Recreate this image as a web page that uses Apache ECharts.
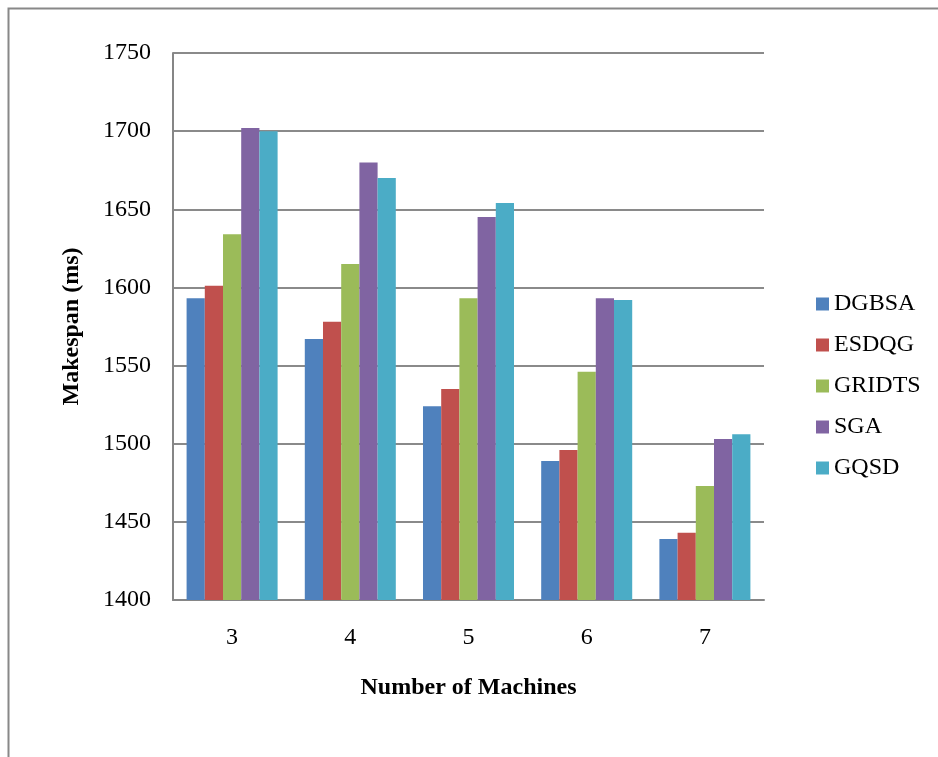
<!DOCTYPE html>
<html>
<head>
<meta charset="utf-8">
<script src="https://cdn.jsdelivr.net/npm/echarts@6/dist/echarts.min.js"></script>
<style>
html,body{margin:0;padding:0;background:#fff;}
#c{width:938px;height:757px;}
</style>
</head>
<body>
<div id="c"></div>
<script>
const categories = ['3', '4', '5', '6', '7'];
const seriesNames = ['DGBSA', 'ESDQG', 'GRIDTS', 'SGA', 'GQSD'];
const DGBSA = [1593, 1567, 1524, 1489, 1439];
const ESDQG = [1601, 1578, 1535, 1496, 1443];
const GRIDTS = [1634, 1615, 1593, 1546, 1473];
const SGA = [1702, 1680, 1645, 1593, 1503];
const GQSD = [1700, 1670, 1654, 1592, 1506];
const yTicks = [1400, 1450, 1500, 1550, 1600, 1650, 1700, 1750];

const colors = ['#4F81BD', '#C0504D', '#9BBB59', '#8064A2', '#4BACC6'];
const values = [DGBSA, ESDQG, GRIDTS, SGA, GQSD];
const font = 'Liberation Serif';

const chart = echarts.init(document.getElementById('c'), null, {renderer: 'canvas'});
chart.setOption({
  animation: false,
  backgroundColor: '#fff',
  color: colors,
  textStyle: {fontFamily: font},
  graphic: [{
    type: 'polyline',
    shape: {points: [[8.5, 760], [8.5, 8.5], [940, 8.5]]},
    style: {stroke: '#888', lineWidth: 2, fill: null},
    silent: true
  }],
  grid: {left: 173, top: 53, width: 591, height: 547, containLabel: false},
  legend: {
    orient: 'vertical',
    left: 811,
    top: 287,
    itemWidth: 13,
    itemHeight: 13,
    itemGap: 17,
    icon: 'rect',
    data: seriesNames,
    textStyle: {fontFamily: font, fontSize: 24, color: '#000'}
  },
  xAxis: {
    type: 'category',
    data: categories,
    name: 'Number of Machines',
    nameLocation: 'middle',
    nameGap: 76,
    nameTextStyle: {fontFamily: font, fontSize: 24, fontWeight: 'bold', color: '#000'},
    axisLine: {lineStyle: {color: '#868686', width: 2}},
    axisTick: {show: false},
    axisLabel: {fontFamily: font, fontSize: 24, color: '#000', margin: 26}
  },
  yAxis: {
    type: 'value',
    min: yTicks[0],
    max: yTicks[yTicks.length - 1],
    interval: 50,
    name: 'Makespan (ms)',
    nameLocation: 'middle',
    nameGap: 89,
    nameTextStyle: {fontFamily: font, fontSize: 24, fontWeight: 'bold', color: '#000'},
    axisLine: {show: true, lineStyle: {color: '#868686', width: 2}},
    axisTick: {show: false},
    axisLabel: {fontFamily: font, fontSize: 24, color: '#000', margin: 22, formatter: v => String(v)},
    splitLine: {lineStyle: {color: '#8a8a8a', width: 2}}
  },
  series: seriesNames.map((n, i) => ({
    name: n,
    type: 'bar',
    data: values[i],
    barGap: '0%',
    barCategoryGap: '23%',
    itemStyle: {color: colors[i]}
  }))
});
</script>
</body>
</html>
